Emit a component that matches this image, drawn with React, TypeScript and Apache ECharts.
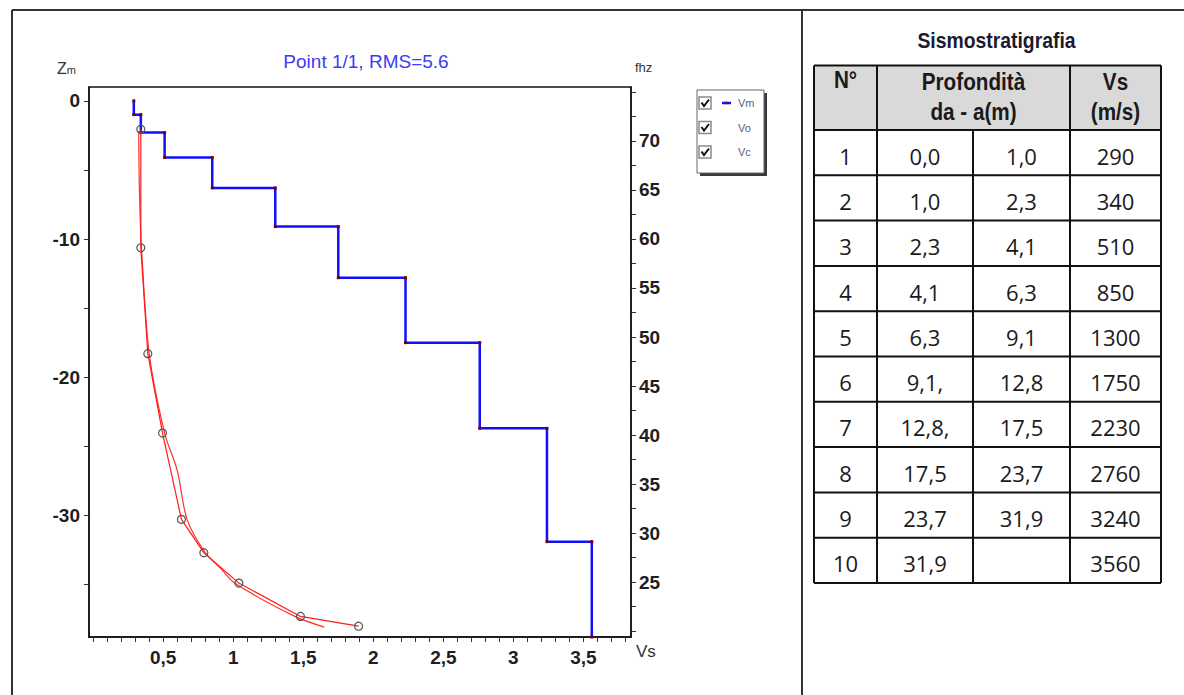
import React, { useEffect, useRef } from "react";
import * as echarts from "echarts";

// Layer table (Sismostratigrafia): depth strings exactly as written in the table
const layerIds = ["1", "2", "3", "4", "5", "6", "7", "8", "9", "10"];
const depthFromLabels = ["0,0", "1,0", "2,3", "4,1", "6,3", "9,1,", "12,8,", "17,5", "23,7", "31,9"];
const depthToLabels = ["1,0", "2,3", "4,1", "6,3", "9,1", "12,8", "17,5", "23,7", "31,9", ""];
const vsLayers = [290, 340, 510, 850, 1300, 1750, 2230, 2760, 3240, 3560];

// Dispersion curves: observed (Vo) and calculated (Vc), phase velocity (km/s) vs frequency (Hz)
const obsFreq = [71.2, 59.1, 48.3, 40.2, 31.4, 28.0, 24.9, 21.5, 20.5];
const obsVs = [0.34, 0.34, 0.39, 0.495, 0.63, 0.79, 1.04, 1.48, 1.895];
const calcFreq = [71.0, 65.0, 59.1, 48.3, 40.2, 36.4, 31.4, 28.0, 26.4, 24.9, 21.5, 20.4];
const calcVs = [0.325, 0.33, 0.345, 0.4, 0.51, 0.6, 0.67, 0.8, 0.91, 1.01, 1.44, 1.65];

// Axis extents and tick labels
const Z_MIN = -38.8;
const Z_MAX = 1.0;
const F_MIN = 19.4;
const F_MAX = 75.5;
const V_MIN = -0.03;
const V_MAX = 3.84;
const depthTickLabels = [0, -10, -20, -30];
const freqTickLabels = [25, 30, 35, 40, 45, 50, 55, 60, 65, 70];
const vsTickLabels = [0.5, 1, 1.5, 2, 2.5, 3, 3.5];

const range = (from: number, to: number, step: number) => {
  const out: number[] = [];
  for (let v = from; v <= to + 1e-9; v += step) out.push(Math.round(v * 100) / 100);
  return out;
};

const toNum = (s: string) => parseFloat(s.replace(",", "."));

const FONT = "'Liberation Sans', Arial, sans-serif";
const TABLE_FONT = "'Open Sans', 'Noto Sans', sans-serif";

function buildProfile(): number[][] {
  const pts: number[][] = [];
  for (let i = 0; i < vsLayers.length; i++) {
    const v = vsLayers[i] / 1000;
    const top = toNum(depthFromLabels[i]);
    const bottom = depthToLabels[i] ? toNum(depthToLabels[i]) : -Z_MIN;
    pts.push([v, -top], [v, -bottom]);
  }
  return pts;
}

function buildTable(): any[] {
  const els: any[] = [];
  const colX = [814, 877, 973, 1070, 1161];
  const headTop = 65.5;
  const headBottom = 130;
  const rowH = 45.3;
  const tableBottom = headBottom + rowH * layerIds.length;
  const line = (x1: number, y1: number, x2: number, y2: number) => ({
    type: "line",
    shape: { x1, y1, x2, y2 },
    style: { stroke: "#111", lineWidth: 2 },
    z: 20,
  });
  const txt = (
    text: string,
    x: number,
    y: number,
    size: number,
    bold: boolean,
    family: string,
    scaleX = 1,
    fill = "#1a1a1a"
  ) => ({
    type: "text",
    x,
    y,
    scaleX,
    style: {
      text,
      fill,
      fontSize: size,
      fontWeight: bold ? "bold" : "normal",
      fontFamily: family,
      align: "center",
      verticalAlign: "middle",
      textAlign: "center",
      textVerticalAlign: "middle",
    },
    z: 21,
  });

  els.push({
    type: "rect",
    shape: { x: colX[0], y: headTop, width: colX[4] - colX[0], height: headBottom - headTop },
    style: { fill: "#d9d9d9" },
    z: 19,
  });
  // horizontal rules
  els.push(line(colX[0], headTop, colX[4], headTop));
  for (let r = 0; r <= layerIds.length; r++) {
    const y = headBottom + r * rowH;
    els.push(line(colX[0], y, colX[4], y));
  }
  // vertical rules (the depth header is merged across two columns)
  [0, 1, 3, 4].forEach((c) => els.push(line(colX[c], headTop, colX[c], tableBottom)));
  els.push(line(colX[2], headBottom, colX[2], tableBottom));

  els.push(txt("Sismostratigrafia", 996.5, 40, 22, true, FONT, 0.88, "#1a1a30"));
  els.push(txt("N°", (colX[0] + colX[1]) / 2, 80, 23, true, FONT, 0.9));
  els.push(txt("Profondità", (colX[1] + colX[3]) / 2, 82, 23, true, FONT, 0.9));
  els.push(txt("da - a(m)", (colX[1] + colX[3]) / 2, 112, 23, true, FONT, 0.9));
  els.push(txt("Vs", (colX[3] + colX[4]) / 2, 82, 23, true, FONT, 0.9));
  els.push(txt("(m/s)", (colX[3] + colX[4]) / 2, 112, 23, true, FONT, 0.9));

  for (let r = 0; r < layerIds.length; r++) {
    const cy = headBottom + r * rowH + rowH / 2 + 3;
    const cells = [layerIds[r], depthFromLabels[r], depthToLabels[r], String(vsLayers[r])];
    cells.forEach((t, c) => {
      if (t) els.push(txt(t, (colX[c] + colX[c + 1]) / 2, cy, 22, false, TABLE_FONT));
    });
  }
  return els;
}

function buildLegend(): any[] {
  const els: any[] = [];
  const bx = 697;
  const by = 90;
  const bw = 67;
  const bh = 83;
  els.push({ type: "rect", shape: { x: bx + 3, y: by + 3, width: bw, height: bh }, style: { fill: "#3a3a3a" }, z: 30 });
  els.push({ type: "rect", shape: { x: bx, y: by, width: bw, height: bh }, style: { fill: "#fff", stroke: "#666", lineWidth: 1 }, z: 31 });
  const names = ["Vm", "Vo", "Vc"];
  const rows = [103, 127.5, 152];
  rows.forEach((cy, i) => {
    els.push({
      type: "rect",
      shape: { x: 699, y: cy - 6, width: 12, height: 12 },
      style: { fill: "#fff", stroke: "#8a8a8a", lineWidth: 1.5 },
      z: 32,
    });
    els.push({
      type: "polyline",
      shape: { points: [[701.5, cy - 0.5], [704, cy + 3], [709, cy - 3.5]] },
      style: { stroke: "#111", lineWidth: 2, fill: null },
      z: 33,
    });
    if (i === 0) {
      els.push({ type: "line", shape: { x1: 722, y1: cy, x2: 731, y2: cy }, style: { stroke: "#1010ff", lineWidth: 2.5 }, z: 33 });
      els.push({ type: "circle", shape: { cx: 726.5, cy, r: 1.3 }, style: { fill: "#900" }, z: 34 });
    }
    els.push({
      type: "text",
      x: 738,
      y: cy,
      style: {
        text: names[i],
        fill: "#5a5a78",
        fontSize: 11,
        fontFamily: FONT,
        verticalAlign: "middle",
        textVerticalAlign: "middle",
      },
      z: 33,
    });
  });
  return els;
}

function buildFrame(): any[] {
  const s = { stroke: "#333", lineWidth: 2 };
  return [
    { type: "line", shape: { x1: 12, y1: 10, x2: 1184, y2: 10 }, style: s, z: 10 },
    { type: "line", shape: { x1: 12, y1: 10, x2: 12, y2: 695 }, style: s, z: 10 },
    { type: "line", shape: { x1: 802, y1: 10, x2: 802, y2: 695 }, style: s, z: 10 },
  ];
}

function buildAxisNames(): any[] {
  return [
    {
      type: "text",
      x: 57,
      y: 60,
      style: {
        text: "{a|Z}{b|m}",
        rich: {
          a: { fontSize: 16, fontFamily: FONT, fill: "#333" },
          b: { fontSize: 11, fontFamily: FONT, fill: "#333", padding: [3, 0, 0, 0] },
        },
      },
      z: 10,
    },
    { type: "text", x: 635, y: 61, style: { text: "fhz", fontSize: 13, fontFamily: FONT, fill: "#333" }, z: 10 },
    { type: "text", x: 636, y: 643, style: { text: "Vs", fontSize: 17, fontFamily: FONT, fill: "#333" }, z: 10 },
  ];
}

const tickLabelStyle = {
  fontSize: 19,
  fontWeight: "bold" as const,
  fontFamily: FONT,
  color: "#1e1e1e",
};

export default function App() {
  const ref = useRef<HTMLDivElement>(null);

  useEffect(() => {
    if (!ref.current) return;
    const chart = echarts.init(ref.current, null, { renderer: "svg" });
    const option: any = {
      animation: false,
      backgroundColor: "#fff",
      title: {
        text: "Point 1/1, RMS=5.6",
        left: 361,
        top: 47,
        textAlign: "center",
        textStyle: { color: "#3c3cf0", fontSize: 19, fontWeight: "normal", fontFamily: FONT },
      },
      grid: {
        left: 89,
        top: 87,
        width: 542,
        height: 550,
        show: true,
        borderColor: "#111",
        borderWidth: 1.5,
        backgroundColor: "#fff",
      },
      xAxis: {
        type: "value",
        min: V_MIN,
        max: V_MAX,
        position: "bottom",
        axisLine: { show: true, onZero: false, lineStyle: { color: "#111", width: 1.5 } },
        axisTick: { show: true, length: 5, customValues: range(0, 3.8, 0.1), lineStyle: { color: "#333" } },
        axisLabel: {
          ...tickLabelStyle,
          margin: 11,
          customValues: vsTickLabels,
          formatter: (v: number) => String(v).replace(".", ","),
        },
        splitLine: { show: false },
      },
      yAxis: [
        {
          type: "value",
          min: Z_MIN,
          max: Z_MAX,
          position: "left",
          axisLine: { show: true, onZero: false, lineStyle: { color: "#111", width: 1.5 } },
          axisTick: { show: true, length: 5, customValues: range(-35, 0, 5), lineStyle: { color: "#333" } },
          axisLabel: { ...tickLabelStyle, margin: 9, customValues: depthTickLabels },
          splitLine: { show: false },
        },
        {
          type: "value",
          min: F_MIN,
          max: F_MAX,
          position: "right",
          axisLine: { show: true, onZero: false, lineStyle: { color: "#111", width: 1.5 } },
          axisTick: { show: true, length: 5, customValues: range(20, 75, 2.5), lineStyle: { color: "#333" } },
          axisLabel: { ...tickLabelStyle, margin: 8, customValues: freqTickLabels },
          splitLine: { show: false },
        },
      ],
      series: [
        {
          name: "Vm",
          type: "line",
          xAxisIndex: 0,
          yAxisIndex: 0,
          data: buildProfile(),
          showSymbol: true,
          symbol: "rect",
          symbolSize: 3,
          itemStyle: { color: "#7a0000" },
          lineStyle: { color: "#1010ff", width: 2.5 },
          z: 2,
        },
        {
          name: "Vc",
          type: "line",
          xAxisIndex: 0,
          yAxisIndex: 1,
          data: calcVs.map((v, i) => [v, calcFreq[i]]),
          smooth: 0.3,
          showSymbol: false,
          lineStyle: { color: "#ff3030", width: 1.2 },
          z: 3,
        },
        {
          name: "Vo",
          type: "line",
          xAxisIndex: 0,
          yAxisIndex: 1,
          data: obsVs.map((v, i) => [v, obsFreq[i]]),
          showSymbol: true,
          symbol: "circle",
          symbolSize: 8,
          itemStyle: { color: "rgba(255,255,255,0)", borderColor: "#555", borderWidth: 1.2 },
          lineStyle: { color: "#ff1a1a", width: 1.2 },
          z: 4,
        },
      ],
      graphic: [...buildFrame(), ...buildAxisNames(), ...buildLegend(), ...buildTable()],
    };
    chart.setOption(option);
    return () => chart.dispose();
  }, []);

  return (
    <div
      ref={ref}
      style={{ position: "absolute", left: 0, top: 0, width: 1184, height: 695, background: "#fff" }}
    />
  );
}
